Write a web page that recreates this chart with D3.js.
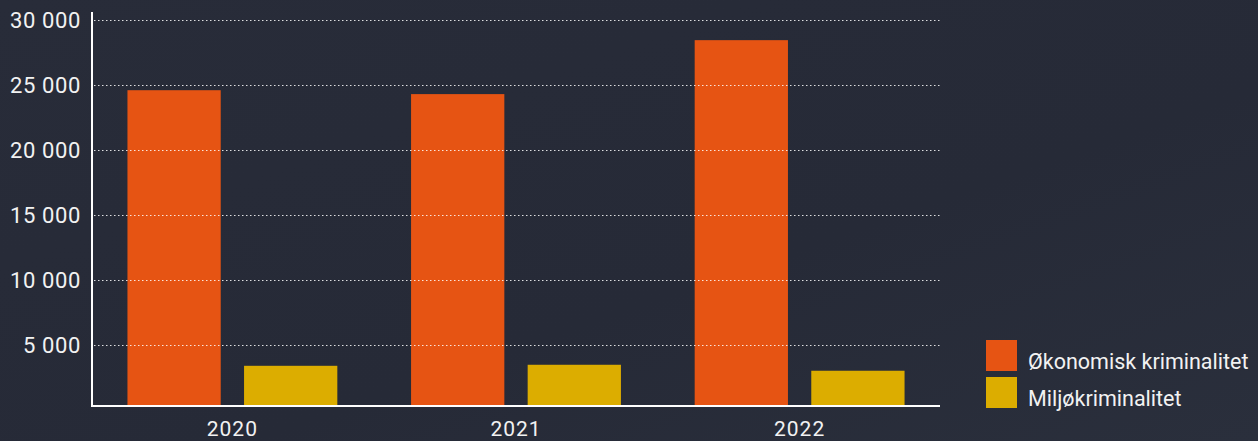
<!DOCTYPE html>
<html>
<head>
<meta charset="utf-8">
<script src="https://cdn.jsdelivr.net/npm/d3@7"></script>
<style>
    html, body { margin: 0; padding: 0; background: #272b38; }
    svg { display: block; }
    text { font-family: Roboto, "DejaVu Sans", sans-serif; fill: #f2f2f2; }
</style>
</head>
<body>
<svg id="chart" width="1258" height="441"></svg>
<script>
const years = ["2020", "2021", "2022"];
const seriesNames = ["Økonomisk kriminalitet", "Miljøkriminalitet"];
const okonomisk = [24600, 24300, 28450];
const miljo = [3400, 3480, 3020];
const yTicks = [5000, 10000, 15000, 20000, 25000, 30000];
const colors = ["#e65413", "#dcad00"];

(function drawChart() {
    const svg = d3.select("#chart");

    // subtle background shading
    const defs = svg.append("defs");
    const grad = defs.append("linearGradient")
        .attr("id", "bg-grad")
        .attr("x1", 0).attr("y1", 0).attr("x2", 1).attr("y2", 1);
    grad.append("stop").attr("offset", "0%").attr("stop-color", "#282c39");
    grad.append("stop").attr("offset", "60%").attr("stop-color", "#262a37");
    grad.append("stop").attr("offset", "100%").attr("stop-color", "#2a2f3c");
    svg.append("rect")
        .attr("width", 1258).attr("height", 441)
        .attr("fill", "url(#bg-grad)");

    const plotLeft = 92, plotRight = 940, plotTop = 12, plotBottom = 406;

    const y = d3.scaleLinear()
        .domain([0, 30000])
        .range([410, 20]);

    const x0 = d3.scaleBand()
        .domain(years)
        .range([plotLeft, plotRight])
        .paddingInner(0.26)
        .paddingOuter(0.125);

    const x1 = d3.scaleBand()
        .domain(seriesNames)
        .range([0, x0.bandwidth()])
        .paddingInner(0.2)
        .paddingOuter(0);

    const data = years.map((yr, i) => ({ year: yr, values: [okonomisk[i], miljo[i]] }));

    // bars
    const groups = svg.selectAll(".year-group")
        .data(data)
        .enter().append("g")
        .attr("class", "year-group")
        .attr("transform", d => `translate(${x0(d.year)},0)`);

    groups.selectAll("rect")
        .data(d => d.values.map((v, i) => ({ name: seriesNames[i], value: v, i: i })))
        .enter().append("rect")
        .attr("x", d => x1(d.name))
        .attr("y", d => y(d.value))
        .attr("width", x1.bandwidth())
        .attr("height", d => plotBottom - y(d.value))
        .attr("fill", d => colors[d.i]);

    // dotted gridlines (drawn over the bars)
    svg.append("g")
        .selectAll("line")
        .data(yTicks)
        .enter().append("line")
        .attr("x1", plotLeft + 2)
        .attr("x2", plotRight)
        .attr("y1", d => Math.round(y(d)) + 0.5)
        .attr("y2", d => Math.round(y(d)) + 0.5)
        .attr("stroke", "#ffffff")
        .attr("stroke-opacity", 0.85)
        .attr("stroke-width", 1)
        .attr("stroke-dasharray", "1.5 2.5");

    // y tick labels
    svg.append("g")
        .selectAll("text")
        .data(yTicks)
        .enter().append("text")
        .attr("x", 81)
        .attr("y", d => y(d))
        .attr("dy", "0.35em")
        .attr("text-anchor", "end")
        .style("font-size", "22px")
        .style("letter-spacing", "0.6px")
        .text(d => d3.format(",")(d).replace(",", " "));

    // axis lines
    svg.append("line")
        .attr("x1", plotLeft).attr("x2", plotLeft)
        .attr("y1", plotTop).attr("y2", plotBottom + 1)
        .attr("stroke", "#ffffff").attr("stroke-width", 2);
    svg.append("line")
        .attr("x1", plotLeft - 1).attr("x2", plotRight)
        .attr("y1", plotBottom).attr("y2", plotBottom)
        .attr("stroke", "#ffffff").attr("stroke-width", 2);

    // x labels
    svg.append("g")
        .selectAll("text")
        .data(years)
        .enter().append("text")
        .attr("x", d => x0(d) + x0.bandwidth() / 2)
        .attr("y", 436)
        .attr("text-anchor", "middle")
        .style("font-size", "21px")
        .style("letter-spacing", "1px")
        .text(d => d);

    // legend
    const legend = svg.append("g")
        .attr("transform", "translate(986,340)");

    seriesNames.forEach((s, i) => {
        const row = legend.append("g")
            .attr("transform", `translate(0,${i * 37})`);
        row.append("rect")
            .attr("width", 31)
            .attr("height", 31)
            .attr("fill", colors[i]);
        row.append("text")
            .attr("x", 42)
            .attr("y", 29)
            .style("font-size", "21.5px")
            .text(s);
    });
})();
</script>
</body>
</html>
